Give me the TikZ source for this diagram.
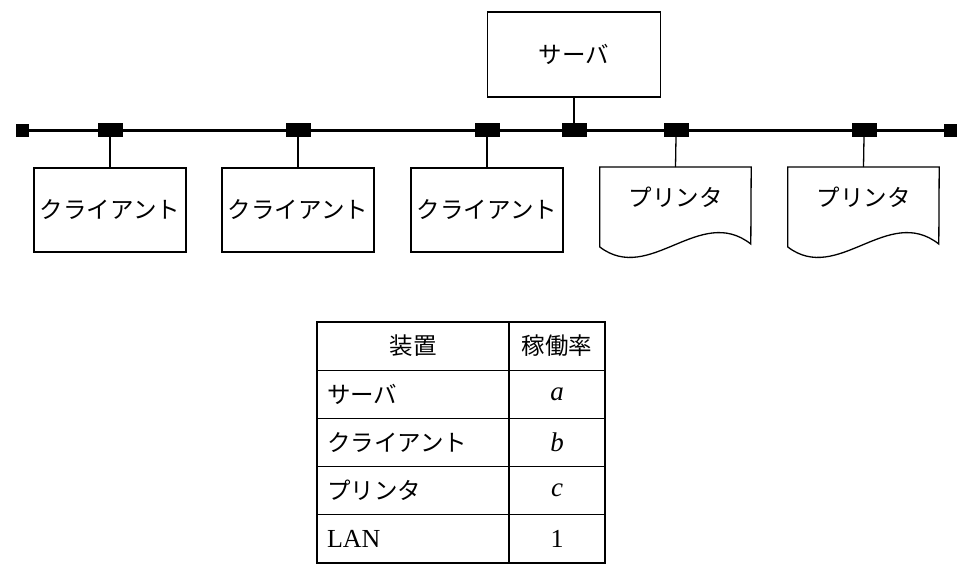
\documentclass[tikz,border=0pt]{standalone}
\usepackage{fontspec}
\setmainfont{Liberation Serif}
\newfontfamily\jp{Noto Sans CJK JP}
\usetikzlibrary{calc}
\begin{document}
\begin{tikzpicture}[x=1pt,y=-1pt,
  jpf/.style={font=\jp\fontsize{23.5}{27}\selectfont},
  box/.style={draw, line width=1.3pt, minimum width=152pt, minimum height=84pt, inner sep=0pt, jpf},
  prn/.style={minimum width=151pt, minimum height=60pt, inner sep=0pt, anchor=north, jpf},
  conn/.style={fill=black, minimum width=25pt, minimum height=14pt, inner sep=0pt},
  term/.style={fill=black, minimum width=13pt, minimum height=13pt, inner sep=0pt},
  bus/.style={line width=3pt},
  wire/.style={line width=1.3pt},
  outline/.style={line width=1.3pt},
  cellL/.style={draw, line width=1.3pt, minimum width=192pt, minimum height=48.2pt, text width=172pt, inner xsep=10pt, inner ysep=0pt, align=left, jpf},
  cellR/.style={draw, line width=1.3pt, minimum width=96pt, minimum height=48.2pt, inner sep=0pt, align=center, font=\fontsize{27}{30}\selectfont},
]
\useasboundingbox (0,0) rectangle (972,578);

% bus
\node[term] (tl) at (22,130) {};
\node[term] (tr) at (950,130) {};
\draw[bus] (tl.center) -- (tr.center);

% connectors
\node[conn] (c1) at (110,130) {};
\node[conn] (c2) at (298,130) {};
\node[conn] (c3) at (487,130) {};
\node[conn] (cs) at (574,130) {};
\node[conn] (c4) at (676,130) {};
\node[conn] (c5) at (864,130) {};

% server
\node[box, minimum width=173pt, minimum height=85pt] (srv) at (574,54.5) {サーバ};
\draw[wire] (srv.south) -- (cs.north);

% clients
\node[box] (k1) at (110,210) {クライアント};
\node[box] (k2) at (298,210) {クライアント};
\node[box] (k3) at (487,210) {クライアント};
\draw[wire] (c1.south) -- (k1.north);
\draw[wire] (c2.south) -- (k2.north);
\draw[wire] (c3.south) -- (k3.north);

% printers
\node[prn] (p1) at (675.5,167) {プリンタ};
\node[prn] (p2) at (863.5,167) {プリンタ};
\foreach \p in {p1,p2}{
  \draw[outline] ($(\p.north west)+(0,80)$) -- (\p.north west) -- (\p.north east) -- ($(\p.north west)+(151,77)$)
    .. controls ($(\p.north west)+(100,37)$) and ($(\p.north west)+(50,118)$) .. ($(\p.north west)+(0,80)$);
}
\draw[wire] (c4.south) -- (p1.north);
\draw[wire] (c5.south) -- (p2.north);

% table
\node[cellL, align=center] (h1) at (413,346.1) {装置};
\node[cellR, jpf] (h2) at (557,346.1) {稼働率};
\node[cellL] (r1) at (413,394.3) {サーバ};
\node[cellR] (v1) at (557,394.3) {\textit{a}};
\node[cellL] (r2) at (413,442.5) {クライアント};
\node[cellR] (v2) at (557,442.5) {\textit{b}};
\node[cellL] (r3) at (413,490.7) {プリンタ};
\node[cellR] (v3) at (557,490.7) {\textit{c}};
\node[cellL, font=\fontsize{26}{28}\selectfont] (r4) at (413,538.9) {LAN};
\node[cellR, font=\fontsize{26}{28}\selectfont] (v4) at (557,538.9) {1};
\end{tikzpicture}
\end{document}
